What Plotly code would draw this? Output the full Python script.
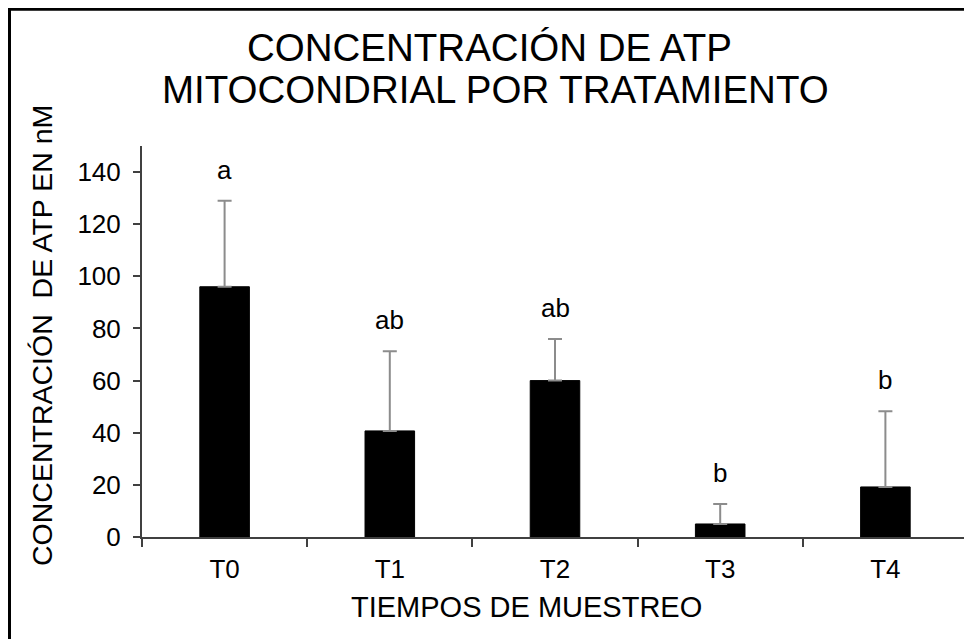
import plotly.graph_objects as go

categories = ["T0", "T1", "T2", "T3", "T4"]
means = [96, 40.7, 60, 5, 19.2]
errors = [33, 30.6, 16, 7.7, 29]
letters = ["a", "ab", "ab", "b", "b"]
y_ticks = [0, 20, 40, 60, 80, 100, 120, 140]

# page body adds an 8px offset; figure sized to fill the rest of the window
W, H = 964, 631
L, R, T, B = 134, 4, 138, 102
PW, PH = W - L - R, H - T - B
FONT = "Liberation Sans, Arial, sans-serif"


def xp(px):  # reference-window x pixel -> paper fraction
    return (px - 8 - L) / PW


def yp(py):  # reference-window y pixel -> paper fraction
    return (H - B - (py - 8)) / PH


fig = go.Figure()
fig.add_trace(go.Bar(
    x=categories, y=means, width=0.3,
    marker=dict(color="black", line=dict(color="black", width=1)),
    error_y=dict(type="data", symmetric=False, array=errors,
                 arrayminus=[0] * len(errors),
                 color="#8c8c8c", thickness=2, width=7),
))

for c, m, e, l in zip(categories, means, errors, letters):
    fig.add_annotation(x=c, y=m + e, text=l, showarrow=False,
                       yanchor="middle", yshift=31,
                       font=dict(family=FONT, size=26, color="black"))

fig.add_annotation(xref="paper", yref="paper", x=xp(42), y=yp(336),
                   text="CONCENTRACIÓN  DE ATP EN nM", textangle=-90,
                   showarrow=False, xanchor="center", yanchor="middle",
                   font=dict(family=FONT, size=28.5, color="black"))
fig.add_annotation(xref="paper", yref="paper", x=xp(526), y=yp(607),
                   text="TIEMPOS DE MUESTREO", showarrow=False,
                   xanchor="center", yanchor="middle",
                   font=dict(family=FONT, size=29, color="black"))
fig.add_annotation(xref="paper", yref="paper", x=xp(489), y=yp(48),
                   text="CONCENTRACIÓN DE ATP", showarrow=False,
                   xanchor="center", yanchor="middle",
                   font=dict(family=FONT, size=38.5, color="black"))
fig.add_annotation(xref="paper", yref="paper", x=xp(495), y=yp(89),
                   text="MITOCONDRIAL POR TRATAMIENTO", showarrow=False,
                   xanchor="center", yanchor="middle",
                   font=dict(family=FONT, size=38.5, color="black"))

# outer frame (top and left edges visible)
fig.add_shape(type="rect", xref="paper", yref="paper",
              x0=xp(9.5), x1=xp(1000), y0=yp(700), y1=yp(9.2),
              line=dict(color="black", width=3))

fig.update_layout(
    width=W, height=H, margin=dict(l=L, r=R, t=T, b=B),
    plot_bgcolor="white", paper_bgcolor="white", showlegend=False,
)
fig.update_xaxes(showline=True, linecolor="#404040", linewidth=2,
                 ticks="outside", tickson="boundaries", ticklen=8,
                 tickcolor="#404040", tickwidth=2, ticklabelstandoff=8,
                 tickfont=dict(family=FONT, size=26, color="black"),
                 showgrid=False, zeroline=False)
fig.update_yaxes(range=[0, 150], tickvals=y_ticks, showline=True,
                 linecolor="#404040", linewidth=2, ticks="outside",
                 ticklen=7, tickcolor="#404040", tickwidth=2,
                 ticklabelstandoff=7,
                 tickfont=dict(family=FONT, size=26, color="black"),
                 showgrid=False, zeroline=False)

fig.write_html("out.html")
